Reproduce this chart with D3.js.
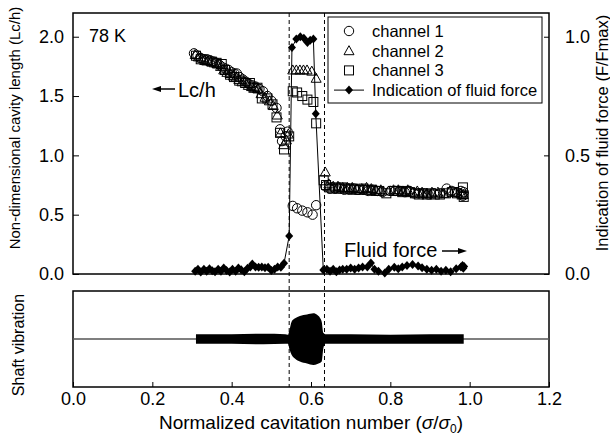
<!DOCTYPE html>
<html>
<head>
<meta charset="utf-8">
<script src="https://cdn.jsdelivr.net/npm/d3@7"></script>
<style>
  body { margin: 0; background: #fff; }
  svg { font-family: "Liberation Sans", Arial, sans-serif; }
</style>
</head>
<body>
<svg id="chart" width="610" height="436"></svg>
<script>
// channel readings (sigma/sigma0, Lc/h)
const channel1 = [
  [0.305,1.86],[0.314,1.84],[0.322,1.82],[0.330,1.81],[0.338,1.81],[0.346,1.80],[0.354,1.79],[0.362,1.78],
  [0.370,1.76],[0.378,1.74],[0.385,1.73],[0.392,1.72],[0.400,1.70],[0.407,1.69],[0.413,1.69],[0.420,1.66],
  [0.428,1.64],[0.436,1.62],[0.444,1.60],[0.452,1.59],[0.460,1.58],[0.470,1.56],[0.479,1.54],[0.490,1.50],
  [0.500,1.46],[0.513,1.40],[0.522,1.22],[0.527,1.12],[0.536,1.16],[0.541,1.20],
  [0.554,0.574],[0.565,0.554],[0.578,0.534],[0.591,0.52],[0.604,0.50],[0.613,0.58],
  [0.636,0.74],[0.648,0.72],[0.660,0.72],[0.672,0.72],[0.684,0.71],[0.696,0.71],[0.708,0.72],[0.720,0.71],
  [0.732,0.71],[0.744,0.70],[0.756,0.71],[0.768,0.70],[0.780,0.69],[0.800,0.70],[0.812,0.70],[0.824,0.70],
  [0.836,0.69],[0.848,0.70],[0.860,0.68],[0.872,0.68],[0.884,0.68],[0.896,0.67],[0.910,0.68],[0.925,0.68],
  [0.942,0.72],[0.955,0.70],[0.968,0.69],[0.978,0.70],[0.983,0.66],[0.985,0.69]
];
const channel2 = [
  [0.308,1.85],[0.316,1.83],[0.324,1.82],[0.332,1.80],[0.340,1.80],[0.348,1.79],[0.356,1.78],[0.364,1.77],
  [0.372,1.75],[0.380,1.72],[0.388,1.70],[0.396,1.69],[0.404,1.67],[0.411,1.66],[0.418,1.64],[0.426,1.62],
  [0.434,1.62],[0.442,1.59],[0.450,1.58],[0.458,1.57],[0.466,1.56],[0.474,1.52],[0.484,1.49],[0.495,1.46],
  [0.505,1.42],[0.515,1.34],[0.523,1.19],[0.531,1.09],[0.538,1.13],[0.543,1.18],
  [0.554,1.72],[0.563,1.72],[0.572,1.72],[0.581,1.72],[0.590,1.72],[0.602,1.71],[0.613,1.65],
  [0.636,0.86],[0.645,0.76],[0.656,0.74],[0.668,0.74],[0.680,0.73],[0.692,0.73],[0.704,0.73],[0.716,0.72],
  [0.728,0.72],[0.740,0.73],[0.752,0.72],[0.764,0.71],[0.776,0.71],[0.796,0.70],[0.808,0.71],[0.820,0.71],
  [0.832,0.70],[0.844,0.71],[0.856,0.69],[0.868,0.70],[0.880,0.69],[0.892,0.68],[0.905,0.69],[0.920,0.69],
  [0.935,0.68],[0.950,0.70],[0.965,0.69],[0.978,0.68],[0.984,0.67]
];
const channel3 = [
  [0.310,1.84],[0.322,1.81],[0.337,1.80],[0.350,1.79],[0.362,1.78],[0.375,1.77],[0.383,1.72],[0.396,1.68],
  [0.406,1.66],[0.419,1.63],[0.434,1.61],[0.446,1.61],[0.455,1.57],[0.465,1.57],[0.476,1.48],[0.490,1.48],
  [0.503,1.43],[0.513,1.32],[0.522,1.19],[0.532,1.05],[0.545,1.16],
  [0.554,1.54],[0.565,1.53],[0.578,1.50],[0.591,1.47],[0.606,1.45],[0.613,1.27],
  [0.632,0.79],[0.638,0.75],[0.646,0.73],[0.654,0.72],[0.662,0.73],[0.670,0.72],[0.678,0.73],[0.686,0.72],
  [0.694,0.72],[0.702,0.72],[0.712,0.71],[0.722,0.71],[0.732,0.72],[0.742,0.71],[0.752,0.71],[0.762,0.70],
  [0.772,0.70],[0.790,0.68],[0.810,0.70],[0.820,0.70],[0.830,0.69],[0.840,0.70],[0.850,0.69],[0.862,0.68],
  [0.872,0.67],[0.882,0.68],[0.892,0.67],[0.902,0.68],[0.912,0.67],[0.925,0.67],[0.940,0.68],[0.955,0.69],
  [0.968,0.68],[0.980,0.67],[0.983,0.73],[0.985,0.65]
];
// indication of fluid force (F/Fmax), right axis
const fluidForce = [
  [0.308,0.012],[0.315,0.020],[0.322,0.008],[0.330,0.020],[0.337,0.012],[0.344,0.022],[0.351,0.014],[0.358,0.010],
  [0.366,0.020],[0.373,0.012],[0.380,0.025],[0.387,0.015],[0.395,0.008],[0.402,0.020],[0.410,0.012],[0.417,0.025],
  [0.424,0.018],[0.432,0.010],[0.440,0.024],[0.447,0.030],[0.452,0.042],[0.460,0.030],[0.468,0.028],[0.476,0.030],
  [0.484,0.026],[0.492,0.028],[0.500,0.015],[0.508,0.020],[0.516,0.030],[0.524,0.028],[0.532,0.045],[0.545,0.160],
  [0.552,0.955],[0.563,0.990],[0.573,1.000],[0.582,0.994],[0.591,0.976],[0.598,0.985],[0.606,0.990],[0.612,0.675],
  [0.631,0.017],[0.640,0.020],[0.648,0.012],[0.656,0.020],[0.664,0.010],[0.672,0.017],[0.680,0.020],[0.690,0.020],
  [0.700,0.025],[0.710,0.020],[0.720,0.025],[0.730,0.030],[0.742,0.030],[0.751,0.046],[0.760,0.020],[0.770,0.012],
  [0.786,0.004],[0.796,0.020],[0.810,0.028],[0.820,0.022],[0.830,0.030],[0.842,0.036],[0.856,0.040],[0.870,0.034],
  [0.880,0.026],[0.892,0.020],[0.904,0.016],[0.916,0.020],[0.928,0.012],[0.940,0.016],[0.952,0.010],[0.966,0.022],
  [0.978,0.030],[0.982,0.036],[0.984,0.024],[0.986,0.032]
];
// shaft vibration envelope (upper and lower edge, arbitrary units)
const vibTop = [
  [0.310,0.10],[0.400,0.10],[0.480,0.11],[0.535,0.10],[0.542,0.09],[0.546,0.20],[0.551,0.36],[0.560,0.43],
  [0.572,0.48],[0.590,0.51],[0.606,0.535],[0.616,0.50],[0.622,0.45],[0.627,0.36],[0.631,0.13],[0.636,0.10],
  [0.700,0.10],[0.800,0.09],[0.900,0.10],[0.985,0.10]
];
const vibBottom = [
  [0.310,-0.10],[0.400,-0.10],[0.480,-0.11],[0.535,-0.10],[0.542,-0.10],[0.546,-0.22],[0.551,-0.33],[0.560,-0.41],
  [0.572,-0.47],[0.590,-0.51],[0.606,-0.54],[0.616,-0.52],[0.622,-0.50],[0.627,-0.47],[0.631,-0.20],[0.636,-0.10],
  [0.700,-0.10],[0.800,-0.10],[0.900,-0.10],[0.985,-0.10]
];
const xTicks = [0, 0.2, 0.4, 0.6, 0.8, 1.0, 1.2];
const leftTicks = [0, 0.5, 1.0, 1.5, 2.0];
const rightTicks = [0, 0.5, 1.0];
const transitions = [0.545, 0.634];

const svg = d3.select("#chart");
const left = 73, right = 549;
const top1 = 13, bottom1 = 274;
const top2 = 291, bottom2 = 387;

const x = d3.scaleLinear().domain([0, 1.2]).range([left, right]);
const yL = d3.scaleLinear().domain([0, 2.2]).range([bottom1, top1]);
const yR = d3.scaleLinear().domain([0, 1.1]).range([bottom1, top1]);
const yV = d3.scaleLinear().domain([-1, 1]).range([bottom2, top2]);

// left axis
const gL = svg.append("g").attr("transform", `translate(${left},0)`)
  .call(d3.axisLeft(yL).tickValues(leftTicks).tickFormat(d3.format(".1f")).tickSizeInner(-6).tickSizeOuter(0).tickPadding(9));
// right axis
const gR = svg.append("g").attr("transform", `translate(${right},0)`)
  .call(d3.axisRight(yR).tickValues(rightTicks).tickFormat(d3.format(".1f")).tickSizeInner(-5).tickSizeOuter(0).tickPadding(16));
// bottom axis
const gB = svg.append("g").attr("transform", `translate(0,${bottom2})`)
  .call(d3.axisBottom(x).tickValues(xTicks).tickFormat(d3.format(".1f")).tickSizeInner(-5).tickSizeOuter(0).tickPadding(5));

[gL, gR, gB].forEach(g => {
  g.select(".domain").remove();
  g.selectAll(".tick line").attr("stroke", "#000");
  g.selectAll("text").attr("fill", "#000").style("font-size", "18px").attr("font-family", null);
});

// frames
svg.append("rect").attr("x", left).attr("y", top1).attr("width", right - left).attr("height", bottom1 - top1)
  .attr("fill", "none").attr("stroke", "#000").attr("stroke-width", 1.5);
svg.append("rect").attr("x", left).attr("y", top2).attr("width", right - left).attr("height", bottom2 - top2)
  .attr("fill", "none").attr("stroke", "#000").attr("stroke-width", 1.5);

// vibration
svg.append("line").attr("x1", left).attr("x2", right).attr("y1", yV(0)).attr("y2", yV(0))
  .attr("stroke", "#555").attr("stroke-width", 1.5);
const vib = vibTop.map((d, i) => ({ x: d[0], hi: d[1], lo: vibBottom[i][1] }));
svg.append("path").datum(vib)
  .attr("d", d3.area().x(d => x(d.x)).y0(d => yV(d.lo)).y1(d => yV(d.hi)).curve(d3.curveMonotoneX))
  .attr("fill", "#000");

// dashed transition lines
svg.selectAll(".trans").data(transitions).enter().append("line")
  .attr("x1", d => x(d)).attr("x2", d => x(d)).attr("y1", top1).attr("y2", bottom2)
  .attr("stroke", "#000").attr("stroke-width", 1).attr("stroke-dasharray", "4,3");

// markers
const sq = 9;
svg.selectAll(".c3").data(channel3).enter().append("rect")
  .attr("x", d => x(d[0]) - sq / 2).attr("y", d => yL(d[1]) - sq / 2).attr("width", sq).attr("height", sq)
  .attr("fill", "none").attr("stroke", "#000").attr("stroke-width", 1);
svg.selectAll(".c1").data(channel1).enter().append("circle")
  .attr("cx", d => x(d[0])).attr("cy", d => yL(d[1])).attr("r", 4.7)
  .attr("fill", "none").attr("stroke", "#000").attr("stroke-width", 1);
const tri = "M0,-5L5,4L-5,4Z";
svg.selectAll(".c2").data(channel2).enter().append("path")
  .attr("d", tri).attr("transform", d => `translate(${x(d[0])},${yL(d[1])})`)
  .attr("fill", "none").attr("stroke", "#000").attr("stroke-width", 1);

// fluid force
const diamond = "M0,-4.5L4,0L0,4.5L-4,0Z";
svg.append("path").datum(fluidForce)
  .attr("d", d3.line().x(d => x(d[0])).y(d => yR(d[1])))
  .attr("fill", "none").attr("stroke", "#000").attr("stroke-width", 1);
svg.selectAll(".ff").data(fluidForce).enter().append("path")
  .attr("d", diamond).attr("transform", d => `translate(${x(d[0])},${yR(d[1])})`)
  .attr("fill", "#000");

// legend
const lg = svg.append("g");
lg.append("rect").attr("x", 328).attr("y", 17).attr("width", 214).attr("height", 86)
  .attr("fill", "#fff").attr("stroke", "#000").attr("stroke-width", 1);
const legendItems = ["channel 1", "channel 2", "channel 3", "Indication of fluid force"];
legendItems.forEach((t, i) => {
  const cy = 31 + i * 19.7;
  const sx = 349;
  if (i === 0) lg.append("circle").attr("cx", sx).attr("cy", cy).attr("r", 4.7).attr("fill", "none").attr("stroke", "#000");
  if (i === 1) lg.append("path").attr("d", tri).attr("transform", `translate(${sx},${cy})`).attr("fill", "none").attr("stroke", "#000");
  if (i === 2) lg.append("rect").attr("x", sx - sq / 2).attr("y", cy - sq / 2).attr("width", sq).attr("height", sq).attr("fill", "none").attr("stroke", "#000");
  if (i === 3) {
    lg.append("line").attr("x1", 334).attr("x2", 364).attr("y1", cy).attr("y2", cy).attr("stroke", "#000");
    lg.append("path").attr("d", diamond).attr("transform", `translate(${sx},${cy})`).attr("fill", "#000");
  }
  lg.append("text").attr("x", 372).attr("y", cy).attr("dy", "0.36em").style("font-size", "16.5px").text(t);
});

// annotations
svg.append("text").attr("x", 89).attr("y", 42).style("font-size", "18px").text("78 K");

const arrowLeft = (x1, x2, y) => {
  svg.append("line").attr("x1", x1 + 6).attr("x2", x2).attr("y1", y).attr("y2", y).attr("stroke", "#000").attr("stroke-width", 1.5);
  svg.append("path").attr("d", `M${x1},${y}L${x1 + 9},${y - 3}L${x1 + 9},${y + 3}Z`).attr("fill", "#000");
};
const arrowRight = (x1, x2, y) => {
  svg.append("line").attr("x1", x1).attr("x2", x2 - 6).attr("y1", y).attr("y2", y).attr("stroke", "#000").attr("stroke-width", 1.5);
  svg.append("path").attr("d", `M${x2},${y}L${x2 - 9},${y - 3}L${x2 - 9},${y + 3}Z`).attr("fill", "#000");
};
arrowLeft(152, 175, 89);
svg.append("text").attr("x", 178).attr("y", 97).style("font-size", "20px").text("Lc/h");
svg.append("text").attr("x", 344).attr("y", 257).style("font-size", "20px").text("Fluid force");
arrowRight(442, 467, 251);

// axis titles
svg.append("text").attr("transform", "translate(20,128) rotate(-90)").attr("text-anchor", "middle")
  .style("font-size", "15px").text("Non-dimensional cavity length (Lc/h)");
svg.append("text").attr("transform", "translate(608,133) rotate(-90)").attr("text-anchor", "middle")
  .style("font-size", "16.5px").text("Indication of fluid force (F/Fmax)");
svg.append("text").attr("transform", "translate(24,345) rotate(-90)").attr("text-anchor", "middle")
  .style("font-size", "16px").text("Shaft vibration");
const xt = svg.append("text").attr("x", (left + right) / 2).attr("y", 429).attr("text-anchor", "middle")
  .style("font-size", "19px");
xt.append("tspan").text("Normalized cavitation number (");
xt.append("tspan").attr("font-style", "italic").text("σ");
xt.append("tspan").text("/");
xt.append("tspan").attr("font-style", "italic").text("σ");
xt.append("tspan").attr("dy", 4).style("font-size", "12px").text("0");
xt.append("tspan").attr("dy", -4).text(")");
</script>
</body>
</html>
